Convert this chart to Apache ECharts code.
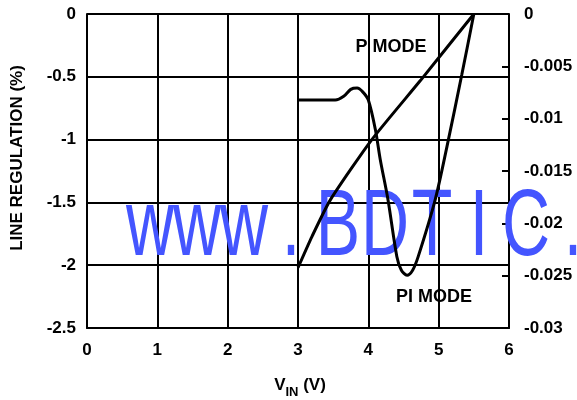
<!DOCTYPE html>
<html>
<head>
<meta charset="utf-8">
<script src="https://cdn.jsdelivr.net/npm/echarts@6/dist/echarts.min.js"></script>
<style>
html,body{margin:0;padding:0;background:#fff;}
#c{width:577px;height:400px;}
</style>
</head>
<body>
<div id="c"></div>
<script>
// ---- data ----
const piModeX = [3.0, 3.53, 3.65, 3.75, 3.84, 3.92, 4.0, 4.1, 4.17, 4.28, 4.405, 4.47, 4.55, 4.63, 4.71, 4.95, 5.12, 5.33, 5.5];
const piModeY = [-0.685, -0.685, -0.655, -0.6, -0.59, -0.62, -0.685, -0.92, -1.16, -1.48, -1.93, -2.04, -2.08, -2.04, -1.93, -1.48, -1.05, -0.48, 0];
const pModeX = [3.0, 3.2, 3.46, 4.05, 4.74, 5.5];
const pModeY = [-2.02, -1.77, -1.48, -1.0, -0.53, 0];
const xTicks = [0, 1, 2, 3, 4, 5, 6];
const leftTicks = [0, -0.5, -1, -1.5, -2, -2.5];
const rightTicks = [0, -0.005, -0.01, -0.015, -0.02, -0.025, -0.03];
const watermark = 'www.BDTIC.';
const labels = { p: 'P MODE', pi: 'PI MODE', y: 'LINE REGULATION (%)', xMain: 'V', xSub: 'IN', xUnit: ' (V)' };

const FONT = '"Liberation Sans", Arial, Helvetica, sans-serif';
const toPairs = (xs, ys) => xs.map((x, i) => [x, ys[i]]);

const chart = echarts.init(document.getElementById('c'), null, { renderer: 'canvas' });

const wmChars = watermark.split('').map((ch, i) => ({
  type: 'text',
  x: 150 + 47 * i,
  y: 229,
  scaleX: 0.7,
  z: 1,
  silent: true,
  style: {
    text: ch,
    fill: '#4455ff',
    font: '95px ' + FONT,
    textAlign: 'center',
    textVerticalAlign: 'middle'
  }
}));

const option = {
  animation: false,
  backgroundColor: '#ffffff',
  grid: { left: 87, right: 68, top: 14, bottom: 72, containLabel: false },
  xAxis: {
    type: 'value',
    min: xTicks[0], max: xTicks[xTicks.length - 1], interval: 1,
    axisLine: { show: true, onZero: false, lineStyle: { color: '#000', width: 2 } },
    axisTick: { show: false },
    splitLine: { show: true, lineStyle: { color: '#000', width: 2 } },
    axisLabel: { color: '#000', fontWeight: 'bold', fontSize: 17, fontFamily: FONT, margin: 14 }
  },
  yAxis: [
    {
      type: 'value',
      min: leftTicks[leftTicks.length - 1], max: leftTicks[0], interval: 0.5,
      axisLine: { show: true, onZero: false, lineStyle: { color: '#000', width: 2 } },
      axisTick: { show: false },
      splitLine: { show: true, lineStyle: { color: '#000', width: 2 } },
      axisLabel: { color: '#000', fontWeight: 'bold', fontSize: 17, fontFamily: FONT, margin: 11 }
    },
    {
      type: 'value',
      position: 'right',
      min: rightTicks[rightTicks.length - 1], max: rightTicks[0], interval: 0.005,
      axisLine: { show: true, onZero: false, lineStyle: { color: '#000', width: 2 } },
      axisTick: { show: true, inside: true, length: 7, lineStyle: { color: '#000', width: 2 } },
      splitLine: { show: false },
      axisLabel: {
        color: '#000', fontWeight: 'bold', fontSize: 17, fontFamily: FONT, margin: 15,
        formatter: v => String(Math.round(v * 1000) / 1000)
      }
    }
  ],
  series: [
    {
      type: 'line', name: labels.pi, data: toPairs(piModeX, piModeY),
      smooth: 0.3, symbol: 'none', z: 3,
      lineStyle: { color: '#000', width: 3 }
    },
    {
      type: 'line', name: labels.p, data: toPairs(pModeX, pModeY),
      smooth: 0.2, symbol: 'none', z: 3,
      lineStyle: { color: '#000', width: 3 }
    }
  ],
  graphic: wmChars.concat([
    {
      type: 'text', x: 391, y: 47, z: 5,
      style: { text: labels.p, fill: '#000', font: 'bold 18px ' + FONT, textAlign: 'center', textVerticalAlign: 'middle' }
    },
    {
      type: 'text', x: 434, y: 297, z: 5,
      style: { text: labels.pi, fill: '#000', font: 'bold 18px ' + FONT, textAlign: 'center', textVerticalAlign: 'middle' }
    },
    {
      type: 'text', x: 17, y: 158, rotation: Math.PI / 2, z: 5,
      style: { text: labels.y, fill: '#000', font: 'bold 17px ' + FONT, textAlign: 'center', textVerticalAlign: 'middle' }
    },
    {
      type: 'text', x: 300, y: 384, z: 5,
      style: {
        text: '{a|' + labels.xMain + '}{b|' + labels.xSub + '}{a|' + labels.xUnit + '}',
        textAlign: 'center', textVerticalAlign: 'middle',
        rich: {
          a: { fill: '#000', fontWeight: 'bold', fontSize: 17, fontFamily: FONT, verticalAlign: 'bottom', lineHeight: 20 },
          b: { fill: '#000', fontWeight: 'bold', fontSize: 13, fontFamily: FONT, verticalAlign: 'bottom', lineHeight: 14, padding: [0, 0, -5, 0] }
        }
      }
    }
  ])
};
chart.setOption(option);
</script>
</body>
</html>
